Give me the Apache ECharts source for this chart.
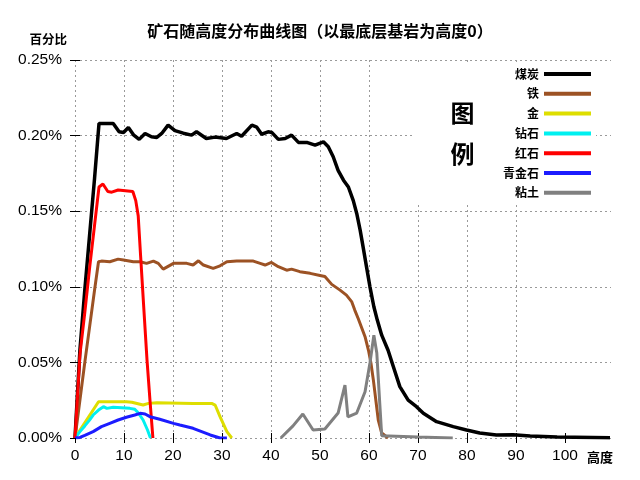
<!DOCTYPE html>
<html><head><meta charset="utf-8">
<script src="https://cdn.jsdelivr.net/npm/echarts@6/dist/echarts.min.js"></script>
<style>html,body{margin:0;padding:0;background:#fff}#c{width:640px;height:480px}</style>
</head><body><div id="c"></div>
<script>
const chartTitle = '矿石随高度分布曲线图（以最底层基岩为高度0）';
const yName = '百分比';
const xName = '高度';
const legendTitle = '图\n例';
const seriesNames = ['煤炭', '铁', '金', '钻石', '红石', '青金石', '粘土'];
const xTickValues = [0, 10, 20, 30, 40, 50, 60, 70, 80, 90, 100];
const yTickValues = [0, 0.05, 0.10, 0.15, 0.20, 0.25];

// [height, percent]
const coal = [[0,0],[1,0.058],[2,0.098],[3,0.135],[4,0.172],[4.9,0.208],[7.8,0.208],[9.0,0.2025],[9.9,0.202],[10.9,0.2054],[12,0.2003],[13.1,0.1975],[14.3,0.2014],[15.6,0.1992],[16.7,0.1988],[17.7,0.2014],[19,0.2069],[20.4,0.2033],[22.1,0.2016],[23.8,0.2003],[24.8,0.2025],[26.8,0.1981],[28.6,0.199],[30.9,0.1981],[33,0.2014],[34,0.1996],[36.1,0.2069],[37.1,0.2056],[38.1,0.2009],[39.4,0.2025],[40.2,0.202],[41.5,0.1975],[42.9,0.1981],[44.2,0.2003],[45.6,0.1955],[47.3,0.1955],[49,0.1937],[50.7,0.1959],[51.7,0.1926],[52.7,0.186],[53.7,0.177],[54.8,0.1705],[55.8,0.166],[56.8,0.157],[57.5,0.1485],[58.2,0.1375],[58.8,0.1264],[59.5,0.1132],[60.2,0.1],[61,0.0868],[61.7,0.078],[62.6,0.068],[63.9,0.058],[65,0.047],[66.3,0.034],[68,0.025],[69.7,0.0207],[71.1,0.0163],[73.8,0.0108],[77.2,0.0075],[79.9,0.0053],[82.6,0.0033],[86,0.002],[89.4,0.0022],[92.9,0.0013],[98.4,0.0007],[109.2,0.0002]];
const iron = [[0,0],[1,0.025],[2,0.05],[3,0.074],[4,0.098],[4.8,0.1166],[5.4,0.117],[7.1,0.1166],[8.8,0.1183],[9.9,0.1177],[11.9,0.1166],[13.3,0.1166],[14.6,0.1155],[16,0.117],[17,0.1155],[18,0.1117],[20.1,0.1155],[22.8,0.1155],[24.1,0.1144],[25.2,0.1172],[26.2,0.1144],[28.2,0.1122],[29.6,0.1139],[31,0.1166],[33,0.117],[36.4,0.117],[37.8,0.1155],[38.8,0.1144],[40.1,0.1161],[41.5,0.1133],[43.2,0.111],[44.2,0.1117],[45.9,0.11],[48,0.1089],[50,0.1075],[51,0.1068],[52.4,0.1016],[54.1,0.0978],[55.4,0.0945],[56.5,0.09],[57.1,0.0846],[57.8,0.079],[59.2,0.067],[59.9,0.058],[60.4,0.0496],[60.9,0.0383],[61.9,0.0119],[62.6,0.0033],[63.9,0]];
const gold = [[0,0],[1,0.005],[2,0.01],[3,0.015],[4,0.02],[4.8,0.024],[10.5,0.024],[10.9,0.0247],[11.6,0.0236],[13.9,0.0218],[15,0.0229],[16.7,0.0233],[24.1,0.0229],[27.9,0.0229],[28.6,0.0218],[29.6,0.0141],[31,0.0042],[32,0]];
const diamond = [[0,0],[1,0.0042],[2,0.008],[3,0.012],[3.7,0.0152],[4.8,0.0185],[5.8,0.0207],[6.5,0.0196],[7.8,0.0203],[11.2,0.0196],[12.2,0.019],[12.9,0.0167],[13.9,0.0119],[14.8,0.0053],[15.4,0]];
const redstone = [[0,0],[1,0.055],[2,0.083],[3,0.113],[4,0.141],[4.9,0.166],[5.7,0.168],[6.7,0.163],[7.5,0.1626],[8.8,0.164],[11.8,0.163],[12.4,0.157],[12.9,0.147],[13.4,0.12],[14,0.088],[14.7,0.0515],[15.3,0.025],[15.9,0]];
const lapis = [[0,0],[1,0.0004],[2,0.0018],[3.7,0.0042],[5.4,0.0075],[7.1,0.0097],[8.8,0.0119],[10.5,0.0137],[12.2,0.0152],[13.3,0.0163],[14.3,0.0159],[15.3,0.0141],[17.3,0.0124],[20.1,0.0097],[21.4,0.0086],[24.1,0.0064],[27.6,0.002],[29.6,0],[31,0]];
const clay = [[42,0],[44.5,0.008],[46.5,0.0159],[48.6,0.0053],[51,0.006],[53.7,0.0165],[55.1,0.035],[55.7,0.0139],[57.5,0.0165],[59.2,0.0306],[60.2,0.0496],[61,0.068],[61.6,0.0562],[61.8,0.045],[62.2,0.0231],[62.6,0.0015],[70,0.0007],[77.1,0]];

const seriesData = [coal, iron, gold, diamond, redstone, lapis, clay];
const colors = ['#000000', '#9c5224', '#dede00', '#00f0f0', '#ff0000', '#1c1cff', '#808080'];
const widths = [3.5, 3, 3, 3, 3, 3, 3];

const latin = '"Liberation Sans", Arial, sans-serif';
const cjk = '"Noto Sans CJK SC", "Liberation Sans", sans-serif';
const xMax = 109.4;

const chart = echarts.init(document.getElementById('c'), null, {renderer: 'canvas'});
const tickStyle = {show: true, inside: true, length: 5, lineStyle: {color: '#000', width: 1}};
const gridLine = {color: '#9a9a9a', width: 1, type: [2, 3]};

chart.setOption({
  animation: false,
  backgroundColor: '#fff',
  title: {
    text: chartTitle, left: 'center', top: 18,
    textStyle: {fontFamily: cjk, fontSize: 16, fontWeight: 'bold', color: '#000'}
  },
  grid: {left: 75, right: 640 - 611, top: 60, bottom: 42, containLabel: false, outerBoundsMode: 'none'},
  legend: {
    data: seriesNames, orient: 'vertical', align: 'right', right: 44, top: 62, padding: 5,
    itemWidth: 47, itemHeight: 4, itemGap: 5.8, icon: 'rect', selectedMode: false,
    textStyle: {fontFamily: cjk, fontSize: 12, fontWeight: 'bold', color: '#000', lineHeight: 14}
  },
  xAxis: [{
    type: 'value', position: 'bottom', min: 0, max: xMax, interval: 10,
    name: xName, nameLocation: 'end', nameGap: 2,
    nameTextStyle: {fontFamily: cjk, fontSize: 13, fontWeight: 'bold', color: '#000', align: 'right', verticalAlign: 'top', padding: [13, 0, 0, 0]},
    axisLine: {show: false},
    axisTick: Object.assign({}, tickStyle, {customValues: xTickValues}),
    axisLabel: {customValues: xTickValues, margin: 10, fontFamily: latin, fontSize: 15.5, color: '#000',
      formatter: v => (v % 10 === 0 && v <= 100) ? String(v) : ''},
    splitLine: {show: true, showMinLine: true, showMaxLine: false, lineStyle: gridLine}
  }, {
    type: 'value', position: 'top', min: 0, max: xMax, interval: 10, z: 5,
    axisLine: {show: false},
    axisTick: Object.assign({}, tickStyle, {customValues: xTickValues}),
    axisLabel: {show: false}, splitLine: {show: false}
  }],
  yAxis: [{
    type: 'value', position: 'left', min: 0, max: 0.25, interval: 0.05,
    name: yName, nameLocation: 'end', nameGap: 21,
    nameTextStyle: {fontFamily: cjk, fontSize: 12.5, fontWeight: 'bold', color: '#000', align: 'right', verticalAlign: 'middle', padding: [0, 8, 0, 0]},
    axisLine: {show: false},
    axisTick: tickStyle,
    axisLabel: {margin: 13, fontFamily: latin, fontSize: 15.5, color: '#000', formatter: v => v.toFixed(2) + '%'},
    splitLine: {show: true, showMinLine: true, showMaxLine: true, lineStyle: gridLine}
  }, {
    type: 'value', position: 'right', min: 0, max: 0.25, interval: 0.05, z: 5,
    axisLine: {show: false}, axisTick: tickStyle, axisLabel: {show: false}, splitLine: {show: false}
  }],
  graphic: [
    {type: 'rect', z: 1, shape: {x: 414, y: 62, width: 182, height: 142}, style: {fill: '#fff'}},
    {type: 'text', z: 10, x: 462.5, y: 133, style: {text: legendTitle, fontFamily: cjk, fontSize: 24, fontWeight: 'bold', fill: '#000', lineHeight: 41, align: 'center', verticalAlign: 'middle'}}
  ],
  series: seriesNames.map((name, i) => ({
    name: name, type: 'line', data: seriesData[i], xAxisIndex: 0, yAxisIndex: 0,
    showSymbol: false, symbol: 'none', smooth: false, z: 3 + i * 0.01,
    lineStyle: {color: colors[i], width: widths[i]},
    itemStyle: {color: colors[i]}
  }))
});
</script>
</body></html>
